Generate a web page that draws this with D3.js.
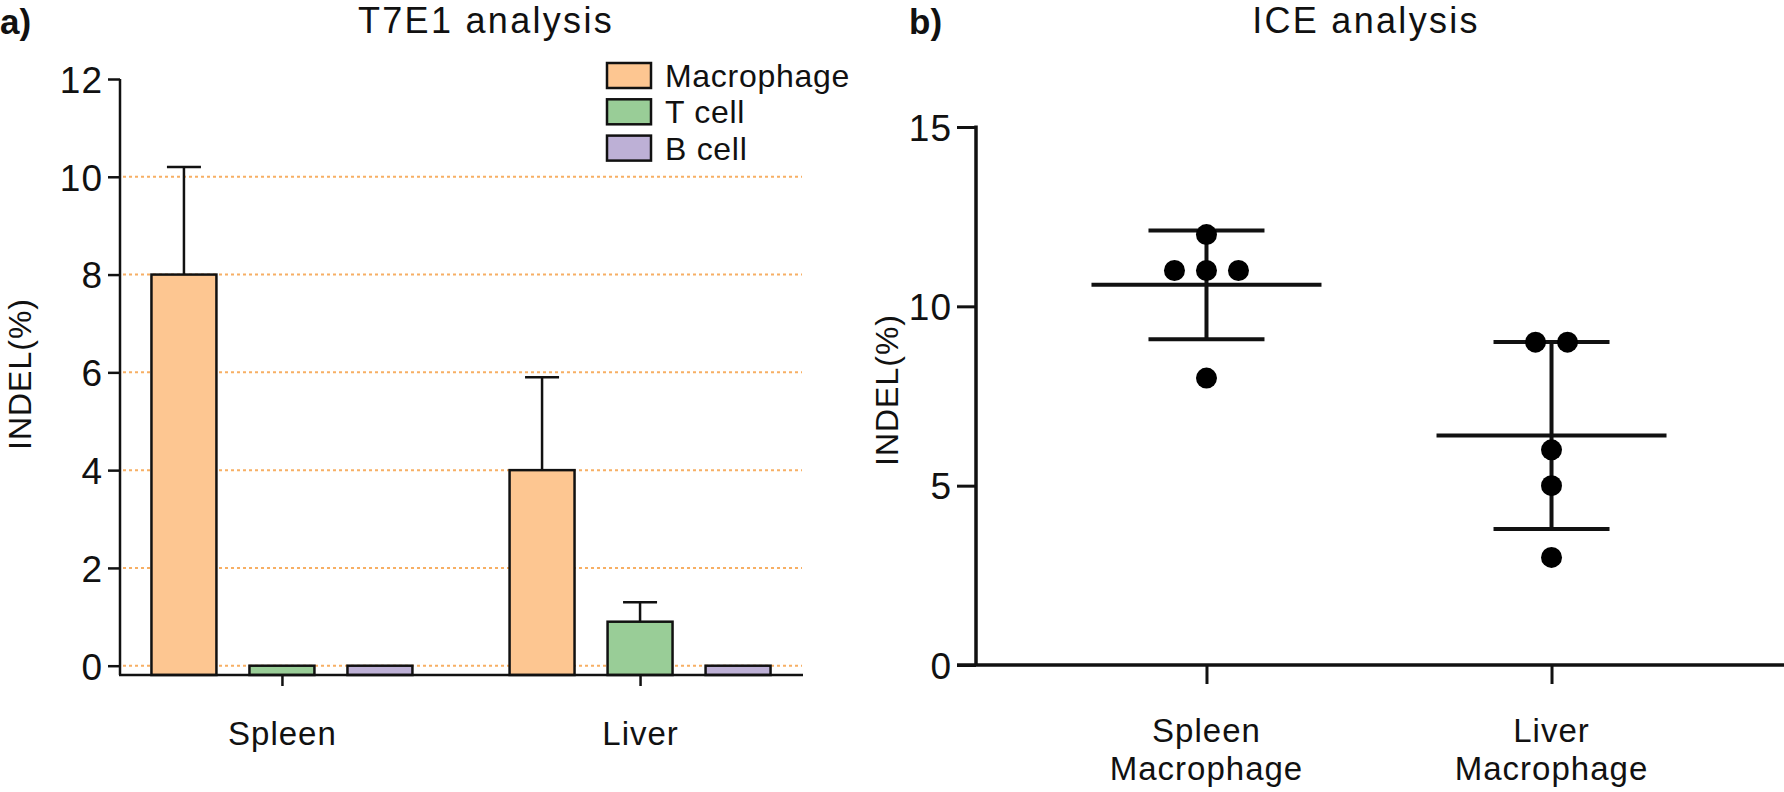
<!DOCTYPE html>
<html>
<head>
<meta charset="utf-8">
<script src="https://cdn.jsdelivr.net/npm/d3@7"></script>
<style>
  body { margin: 0; background: #fff; }
  svg { display: block; font-family: "Liberation Sans", Arial, Helvetica, sans-serif; }
</style>
</head>
<body>
<svg id="chart" width="1784" height="792"></svg>
<script>
// ---- panel a data (T7E1) ----
var groups = ["Spleen", "Liver"];
var cellTypes = ["Macrophage", "T cell", "B cell"];
var t7Means = [[8, 0, 0], [4, 0.9, 0]];
var t7Errors = [[2.2, 0, 0], [1.9, 0.4, 0]];
var t7Ticks = [0, 2, 4, 6, 8, 10, 12];
var t7Grid = [0, 2, 4, 6, 8, 10];
var cellColors = ["#fdc691", "#99cd97", "#bdb0d6"];

// ---- panel b data (ICE) ----
var iceGroups = ["Spleen Macrophage", "Liver Macrophage"];
var iceLabels = [["Spleen", "Macrophage"], ["Liver", "Macrophage"]];
var iceValues = [[12, 11, 11, 11, 8], [9, 9, 6, 5, 3]];
var iceTicks = [0, 5, 10, 15];

var svg = d3.select("#chart");

/* ================= panel a ================= */
var a = svg.append("g");
var ya = d3.scaleLinear().domain([0, 12]).range([665.7, 79]);
var xa = d3.scalePoint().domain(groups).range([119, 803]).padding(0.455);
var xin = d3.scaleBand().domain(cellTypes).range([-147, 147])
  .paddingInner(0.337).paddingOuter(0.1685);
var baseA = 675;

// dotted grid
a.selectAll(".grid").data(t7Grid).enter().append("line")
  .attr("x1", 123).attr("x2", 802)
  .attr("y1", d => ya(d)).attr("y2", d => ya(d))
  .attr("stroke", "#f6a24a").attr("stroke-width", 2)
  .attr("stroke-dasharray", "3,3").attr("opacity", 0.85);

// bars
var bars = [];
groups.forEach(function (g, gi) {
  cellTypes.forEach(function (c, ci) {
    bars.push({ g: g, c: c, ci: ci, v: t7Means[gi][ci], e: t7Errors[gi][ci] });
  });
});

// error bars (upper only)
var eb = a.selectAll(".err").data(bars.filter(d => d.e > 0)).enter().append("g");
eb.append("line")
  .attr("x1", d => xa(d.g) + xin(d.c) + xin.bandwidth() / 2)
  .attr("x2", d => xa(d.g) + xin(d.c) + xin.bandwidth() / 2)
  .attr("y1", d => ya(d.v)).attr("y2", d => ya(d.v + d.e))
  .attr("stroke", "#111").attr("stroke-width", 2.5);
eb.append("line")
  .attr("x1", d => xa(d.g) + xin(d.c) + xin.bandwidth() / 2 - 17)
  .attr("x2", d => xa(d.g) + xin(d.c) + xin.bandwidth() / 2 + 17)
  .attr("y1", d => ya(d.v + d.e)).attr("y2", d => ya(d.v + d.e))
  .attr("stroke", "#111").attr("stroke-width", 2.5);

a.selectAll(".bar").data(bars).enter().append("rect")
  .attr("x", d => xa(d.g) + xin(d.c))
  .attr("width", xin.bandwidth())
  .attr("y", d => ya(d.v))
  .attr("height", d => baseA - ya(d.v))
  .attr("fill", d => cellColors[d.ci])
  .attr("stroke", "#111").attr("stroke-width", 2.5);

// y axis
var yAxisA = a.append("g").attr("transform", "translate(120,0)")
  .call(d3.axisLeft(ya).tickValues(t7Ticks).tickSize(12).tickPadding(5));
yAxisA.select(".domain").remove();
yAxisA.append("line").attr("x1", 0).attr("x2", 0).attr("y1", ya(12)).attr("y2", baseA)
  .attr("stroke", "#111").attr("stroke-width", 2.5);
yAxisA.selectAll(".tick line").attr("stroke", "#111").attr("stroke-width", 2.5);
yAxisA.selectAll(".tick text").attr("fill", "#111").style("font-size", "37px")
  .style("letter-spacing", "1px").attr("dy", "0.36em");

// x axis
var xAxisA = a.append("g").attr("transform", "translate(0," + baseA + ")")
  .call(d3.axisBottom(xa).tickSize(11).tickPadding(36));
xAxisA.select(".domain").remove();
xAxisA.append("line").attr("x1", 119).attr("x2", 803)
  .attr("stroke", "#111").attr("stroke-width", 2.5);
xAxisA.selectAll(".tick line").attr("stroke", "#111").attr("stroke-width", 2.5);
xAxisA.selectAll(".tick text").attr("fill", "#111").style("font-size", "33px")
  .style("letter-spacing", "1px");

// legend
var leg = a.selectAll(".leg").data(cellTypes).enter().append("g")
  .attr("transform", (d, i) => "translate(607," + (63 + i * 36.3) + ")");
leg.append("rect").attr("width", 44).attr("height", 25)
  .attr("fill", (d, i) => cellColors[i]).attr("stroke", "#111").attr("stroke-width", 2.5);
leg.append("text").attr("x", 58).attr("y", 12.5).attr("dy", "0.36em")
  .style("font-size", "32px").style("letter-spacing", "0.7px").attr("fill", "#111")
  .text(d => d);

// labels
a.append("text").attr("transform", "translate(31,374) rotate(-90)")
  .attr("text-anchor", "middle").style("font-size", "32px").style("letter-spacing", "1px")
  .attr("fill", "#111").text("INDEL(%)");
a.append("text").attr("x", 486).attr("y", 33).attr("text-anchor", "middle")
  .style("font-size", "36px").style("letter-spacing", "2.3px").attr("fill", "#111")
  .text("T7E1 analysis");
a.append("text").attr("x", 0).attr("y", 34).style("font-size", "35px")
  .style("font-weight", "bold").attr("fill", "#111").text("a)");

/* ================= panel b ================= */
var b = svg.append("g");
var yb = d3.scaleLinear().domain([0, 15]).range([665, 127]);
var xb = d3.scalePoint().domain(iceGroups).range([976, 1782]).padding(0.668);

// y axis
var yAxisB = b.append("g").attr("transform", "translate(976,0)")
  .call(d3.axisLeft(yb).tickValues(iceTicks).tickSize(19).tickPadding(5));
yAxisB.select(".domain").remove();
yAxisB.append("line").attr("x1", 0).attr("x2", 0).attr("y1", yb(15) - 1.5).attr("y2", yb(0))
  .attr("stroke", "#111").attr("stroke-width", 3.5);
yAxisB.selectAll(".tick line").attr("stroke", "#111").attr("stroke-width", 3);
yAxisB.selectAll(".tick text").attr("fill", "#111").style("font-size", "37px")
  .style("letter-spacing", "1px").attr("dy", "0.36em");

// x axis
var xAxisB = b.append("g").attr("transform", "translate(0," + yb(0) + ")")
  .call(d3.axisBottom(xb).tickSize(19).tickFormat(""));
xAxisB.select(".domain").remove();
xAxisB.append("line").attr("x1", 957).attr("x2", 1784)
  .attr("stroke", "#111").attr("stroke-width", 3.5);
xAxisB.selectAll(".tick line").attr("stroke", "#111").attr("stroke-width", 3);

iceGroups.forEach(function (g, gi) {
  var lab = b.append("text").attr("text-anchor", "middle")
    .style("font-size", "33px").style("letter-spacing", "1px").attr("fill", "#111");
  iceLabels[gi].forEach(function (t, li) {
    lab.append("tspan").attr("x", xb(g)).attr("y", 742 + li * 38).text(t);
  });
});

// mean +/- SD
iceGroups.forEach(function (g, gi) {
  var vals = iceValues[gi];
  var m = d3.mean(vals), sd = d3.deviation(vals);
  var cx = xb(g);
  var st = b.append("g").attr("stroke", "#111").attr("stroke-width", 4);
  st.append("line").attr("x1", cx).attr("x2", cx).attr("y1", yb(m + sd)).attr("y2", yb(m - sd));
  st.append("line").attr("x1", cx - 58).attr("x2", cx + 58).attr("y1", yb(m + sd)).attr("y2", yb(m + sd));
  st.append("line").attr("x1", cx - 58).attr("x2", cx + 58).attr("y1", yb(m - sd)).attr("y2", yb(m - sd));
  st.append("line").attr("x1", cx - 115).attr("x2", cx + 115).attr("y1", yb(m)).attr("y2", yb(m));
});

// points, tied values spread sideways
var pts = [];
iceGroups.forEach(function (g, gi) {
  var counts = d3.rollup(iceValues[gi], v => v.length, d => d);
  var seen = new Map();
  iceValues[gi].forEach(function (v) {
    var n = counts.get(v), k = seen.get(v) || 0;
    seen.set(v, k + 1);
    pts.push({ g: g, v: v, off: (k - (n - 1) / 2) * 32 });
  });
});
b.selectAll(".pt").data(pts).enter().append("circle")
  .attr("cx", d => xb(d.g) + d.off).attr("cy", d => yb(d.v))
  .attr("r", 10.5).attr("fill", "#000");

b.append("text").attr("transform", "translate(898,390) rotate(-90)")
  .attr("text-anchor", "middle").style("font-size", "32px").style("letter-spacing", "1px")
  .attr("fill", "#111").text("INDEL(%)");
b.append("text").attr("x", 1366).attr("y", 33).attr("text-anchor", "middle")
  .style("font-size", "36px").style("letter-spacing", "2.3px").attr("fill", "#111")
  .text("ICE analysis");
b.append("text").attr("x", 909).attr("y", 34).style("font-size", "35px")
  .style("font-weight", "bold").attr("fill", "#111").text("b)");
</script>
</body>
</html>
